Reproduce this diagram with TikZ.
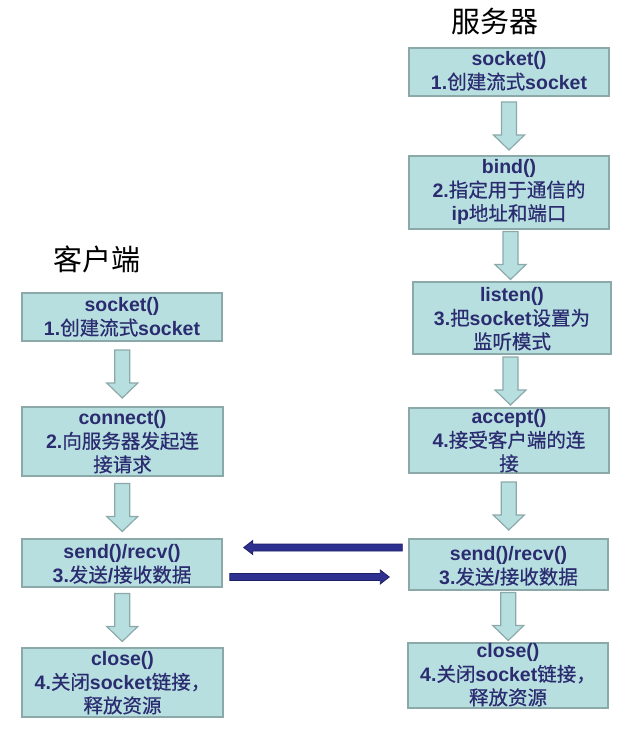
\documentclass[tikz,border=0pt]{standalone}
\usepackage{fontspec}
\setmainfont{Liberation Sans}
\newfontfamily\cjk{Noto Sans CJK SC}
\newfontfamily\cjkm{Noto Sans CJK SC}[FakeBold=0.6]
\usetikzlibrary{calc}
\definecolor{boxfill}{HTML}{B7DFE0}
\definecolor{boxline}{HTML}{8CA9AA}
\definecolor{navy}{HTML}{2B2B70}
\definecolor{arrnavy}{HTML}{2E3190}
\definecolor{arrdark}{HTML}{1E1F66}
\newcommand\zh[1]{{\cjkm\mdseries #1}}
\tikzset{
 box/.style={draw=boxline, fill=boxfill, line width=1.5pt, rectangle, inner sep=0pt},
 txt/.style={align=center, inner sep=0pt, text=navy, font=\fontsize{19.5}{23.5}\selectfont\bfseries},
 ttl/.style={inner sep=0pt, font=\fontsize{29}{34}\selectfont\cjk},
 barrow/.style={draw=boxline, fill=boxfill, line width=1.2pt, line join=miter},
 darrow/.style={draw=arrdark, fill=arrnavy, line width=0.8pt},
}
\newcommand\blockarr[2]{%
 \coordinate (m) at ($(#1.south)!0.5!(#2.north)$);
 \draw[barrow] ($(m)+(-7.5,-24)$) -- ($(m)+(7.5,-24)$) -- ($(m)+(7.5,9)$) -- ($(m)+(15.5,9)$) -- ($(m)+(0,24)$) -- ($(m)+(-15.5,9)$) -- ($(m)+(-7.5,9)$) -- cycle;}
\begin{document}
\begin{tikzpicture}[x=1pt,y=-1pt]
\useasboundingbox (0,0) rectangle (634,736);
% titles
\node[ttl] (tserver) at (495,21) {服务器};
\node[ttl] (tclient) at (97,259) {客户端};
% right column boxes
\node[box, minimum width=200, minimum height=48] (rsock) at (509,72) {};
\node[box, minimum width=200, minimum height=73] (rbind) at (509,192.5) {};
\node[box, minimum width=198, minimum height=72] (rlisten) at (512,318) {};
\node[box, minimum width=200, minimum height=65] (raccept) at (509,440.5) {};
\node[box, minimum width=199, minimum height=51] (rsend) at (508.5,564.5) {};
\node[box, minimum width=200, minimum height=65] (rclose) at (508,675.5) {};
% left column boxes
\node[box, minimum width=200, minimum height=48] (lsock) at (122,317) {};
\node[box, minimum width=201, minimum height=69] (lconn) at (122.5,441.5) {};
\node[box, minimum width=200, minimum height=48] (lsend) at (122,563) {};
\node[box, minimum width=201, minimum height=69] (lclose) at (122.5,682.5) {};
% texts
\node[txt] (rsock-t) at (509,71) {socket()\\1.\zh{创建流式}socket};
\node[txt] (rbind-t) at (509,192) {bind()\\2.\zh{指定用于通信的}\\ip\zh{地址和端口}};
\node[txt] (rlisten-t) at (512,319) {listen()\\3.\zh{把}socket\zh{设置为}\\\zh{监听模式}};
\node[txt] (raccept-t) at (509,441) {accept()\\4.\zh{接受客户端的连}\\\zh{接}};
\node[txt] (rsend-t) at (508.5,566) {send()/recv()\\3.\zh{发送}/\zh{接收数据}};
\node[txt] (rclose-t) at (508,675) {close()\\4.\zh{关闭}socket\zh{链接，}\\\zh{释放资源}};
\node[txt] (lsock-t) at (122,317) {socket()\\1.\zh{创建流式}socket};
\node[txt] (lconn-t) at (122.5,442) {connect()\\2.\zh{向服务器发起连}\\\zh{接请求}};
\node[txt] (lsend-t) at (122,564) {send()/recv()\\3.\zh{发送}/\zh{接收数据}};
\node[txt] (lclose-t) at (122.5,683) {close()\\4.\zh{关闭}socket\zh{链接，}\\\zh{释放资源}};
% block arrows
\blockarr{rsock}{rbind}
\blockarr{rbind}{rlisten}
\blockarr{rlisten}{raccept}
\blockarr{raccept}{rsend}
\blockarr{rsend}{rclose}
\blockarr{lsock}{lconn}
\blockarr{lconn}{lsend}
\blockarr{lsend}{lclose}
% exchange arrows
\coordinate (a1s) at ($(rsend.west)+(-6,-17)$);
\coordinate (a1e) at ($(lsend.east |- a1s)+(21,0)$);
\draw[darrow] ($(a1s)+(0,-3.5)$) -- ($(a1e)+(9,-3.5)$) -- ($(a1e)+(9,-7)$) -- (a1e) -- ($(a1e)+(9,7)$) -- ($(a1e)+(9,3.5)$) -- ($(a1s)+(0,3.5)$) -- cycle;
\coordinate (a2s) at ($(lsend.east)+(7,14)$);
\coordinate (a2e) at ($(rsend.west |- a2s)+(-19,0)$);
\draw[darrow] ($(a2s)+(0,-3.5)$) -- ($(a2e)+(-9,-3.5)$) -- ($(a2e)+(-9,-7)$) -- (a2e) -- ($(a2e)+(-9,7)$) -- ($(a2e)+(-9,3.5)$) -- ($(a2s)+(0,3.5)$) -- cycle;
\end{tikzpicture}
\end{document}
